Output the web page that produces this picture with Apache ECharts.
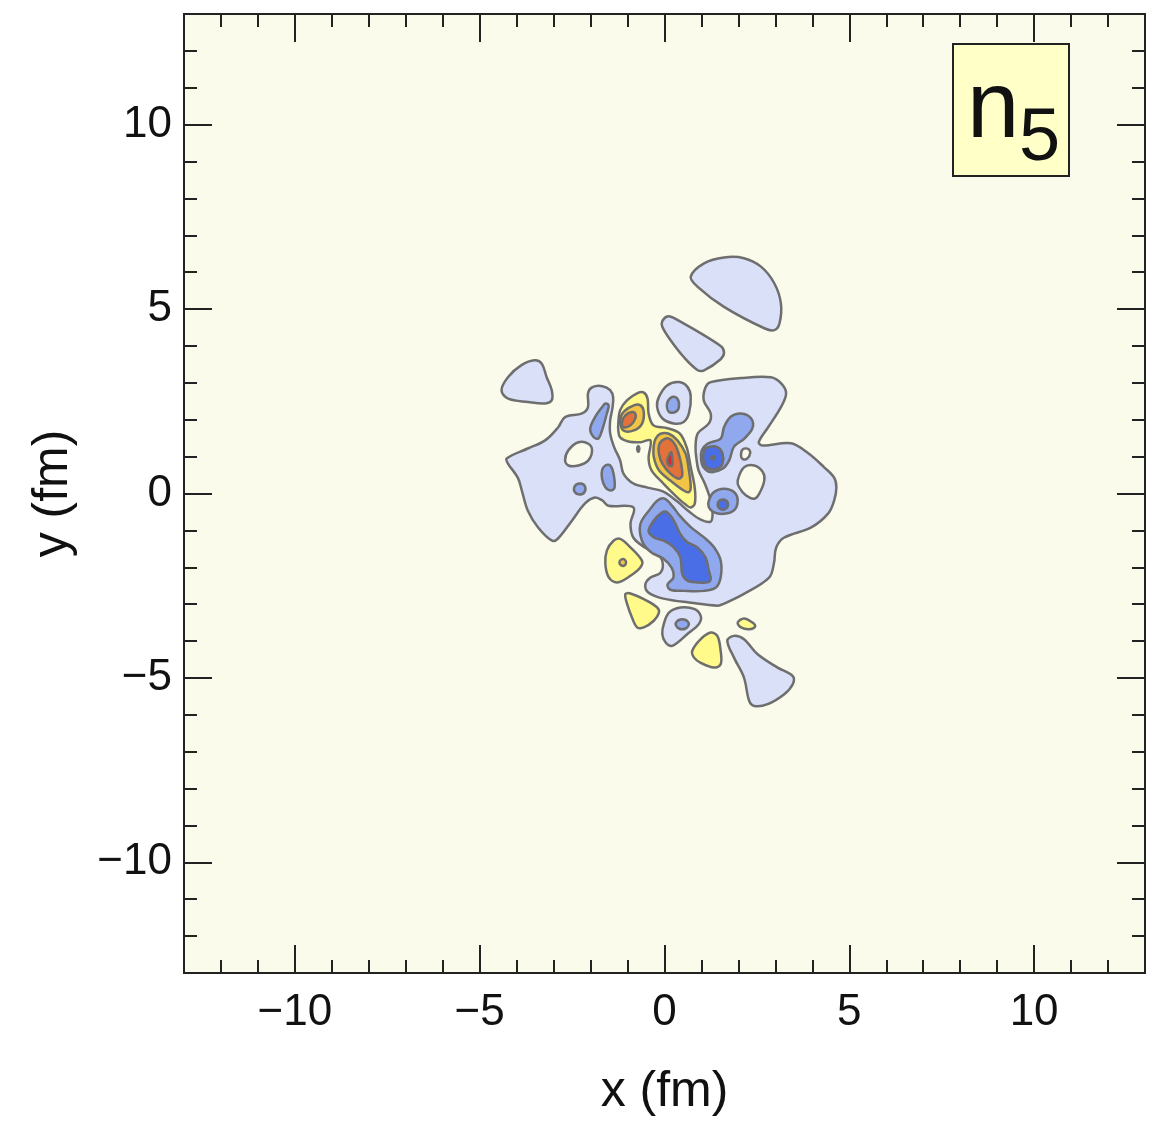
<!DOCTYPE html>
<html lang="en">
<head>
    <meta charset="UTF-8">
    <title>n5 contour</title>
    <script src="https://cdn.jsdelivr.net/npm/echarts@6/dist/echarts.min.js"></script>
</head>
<style>
    *{margin:0;padding:0;}
    html,body{width:100%;height:100%;overflow:hidden;background:#fff;}
    .container{width:1160px;height:1122px;}
</style>
<body>
<div class="container"></div>
<script>
    // contour outlines, x and y in fm
    let halfDisc=[[0.71,5.88],[1.07,6.24],[1.61,6.40],[2.15,6.38],[2.61,6.15],[2.97,5.70],[3.15,5.15],[3.11,4.61],[2.97,4.43],[2.70,4.48],[1.61,5.06],[0.89,5.61]];
    let tearBlob=[[-0.06,4.67],[0.07,4.80],[0.25,4.76],[1.52,4.00],[1.61,3.82],[1.52,3.64],[1.07,3.34],[0.89,3.35],[0.52,3.70],[0.16,4.16],[-0.06,4.52]];
    let leftBlob=[[-4.41,2.80],[-4.23,3.16],[-3.87,3.48],[-3.51,3.61],[-3.32,3.52],[-3.19,3.16],[-3.05,2.80],[-3.05,2.53],[-3.23,2.44],[-3.69,2.48],[-4.23,2.57]];
    let horseshoe=[[-1.96,2.88],[-1.68,2.91],[-1.47,2.80],[-1.39,2.61],[-1.41,2.31],[-1.47,1.98],[-1.47,1.63],[-1.36,1.25],[-1.20,0.90],[-1.11,0.54],[-0.84,0.27],[-0.46,0.16],[-0.03,0.05],[0.35,-0.22],[0.63,-0.46],[0.98,-0.71],[1.25,-0.76],[1.30,-0.54],[1.25,-0.19],[1.09,0.27],[0.92,0.63],[0.87,0.90],[0.84,1.25],[0.90,1.63],[1.20,1.90],[1.25,2.17],[1.06,2.53],[1.11,2.88],[1.25,3.02],[2.07,3.13],[2.88,3.15],[3.15,2.99],[3.29,2.72],[3.15,2.34],[2.80,1.79],[2.55,1.39],[2.66,1.30],[3.42,1.36],[3.89,1.09],[4.32,0.71],[4.59,0.43],[4.65,0.16],[4.59,-0.19],[4.43,-0.54],[3.97,-0.92],[3.23,-1.20],[3.02,-1.47],[2.96,-1.90],[2.83,-2.28],[2.15,-2.72],[1.60,-2.99],[1.44,-3.04],[0.71,-2.96],[-0.03,-2.85],[-0.43,-2.69],[-0.52,-2.47],[-0.38,-2.28],[-0.11,-2.15],[-0.05,-1.88],[-0.19,-1.63],[-0.52,-1.47],[-0.84,-1.20],[-0.92,-0.82],[-0.84,-0.38],[-1.52,-0.33],[-1.68,-0.19],[-1.88,-0.11],[-2.15,-0.27],[-2.50,-0.73],[-2.88,-1.22],[-3.04,-1.28],[-3.42,-0.92],[-3.70,-0.46],[-3.86,0.08],[-3.97,0.43],[-4.24,0.82],[-4.27,0.95],[-3.70,1.22],[-3.23,1.44],[-2.88,1.79],[-2.69,2.07],[-2.23,2.17],[-2.07,2.34],[-2.07,2.72]];
    let leftHole=[[-2.69,0.90],[-2.60,1.17],[-2.33,1.39],[-2.06,1.35],[-1.96,1.17],[-2.06,0.90],[-2.33,0.76],[-2.60,0.76]];
    let rightHole=[[1.98,0.35],[2.15,0.71],[2.43,0.76],[2.66,0.58],[2.70,0.35],[2.56,-0.01],[2.43,-0.14],[2.20,-0.05],[2.02,0.17]];
    let smallHole=[[2.07,1.03],[2.11,1.19],[2.26,1.21],[2.32,1.10],[2.23,0.94],[2.11,0.94]];
    let leftSliver=[[-2.01,1.76],[-1.88,2.07],[-1.69,2.34],[-1.60,2.44],[-1.51,2.39],[-1.56,2.17],[-1.69,1.71],[-1.79,1.49],[-1.92,1.53]];
    let lowerSliver=[[-1.69,0.63],[-1.60,0.76],[-1.47,0.76],[-1.38,0.54],[-1.35,0.17],[-1.44,0.08],[-1.60,0.17],[-1.69,0.40]];
    let tinyCircle=[[-2.45,0.14],[-2.39,0.24],[-2.26,0.27],[-2.15,0.19],[-2.17,0.03],[-2.31,-0.03],[-2.42,0.03]];
    let rightBlob=[[1.01,1.17],[1.16,1.35],[1.52,1.49],[1.61,1.80],[1.79,2.08],[2.07,2.17],[2.34,2.04],[2.38,1.77],[2.16,1.49],[1.88,1.27],[1.75,0.90],[1.57,0.67],[1.25,0.58],[1.05,0.72],[0.99,0.94]];
    let rightCore=[[1.07,1.17],[1.20,1.26],[1.43,1.26],[1.57,1.08],[1.57,0.81],[1.43,0.67],[1.20,0.67],[1.07,0.81]];
    let rightDot=[[1.26,0.97],[1.31,1.01],[1.36,0.97],[1.31,0.93]];
    let lowCircle=[[1.20,-0.19],[1.34,0.04],[1.61,0.13],[1.88,0.04],[1.98,-0.19],[1.88,-0.46],[1.61,-0.55],[1.34,-0.51],[1.20,-0.37]];
    let lowCircleCore=[[1.44,-0.30],[1.51,-0.18],[1.65,-0.18],[1.72,-0.30],[1.65,-0.42],[1.51,-0.42]];
    let trough=[[-0.65,-0.82],[-0.38,-0.41],[-0.19,-0.19],[0.00,-0.14],[0.22,-0.35],[0.41,-0.60],[0.71,-0.91],[1.07,-1.19],[1.34,-1.46],[1.52,-1.82],[1.52,-2.27],[1.39,-2.55],[1.07,-2.64],[0.52,-2.64],[0.16,-2.61],[0.08,-2.47],[0.24,-2.28],[0.19,-2.01],[-0.03,-1.77],[-0.38,-1.58],[-0.61,-1.28]];
    let troughCore=[[-0.43,-1.01],[-0.29,-0.73],[-0.06,-0.51],[0.07,-0.51],[0.25,-0.73],[0.43,-1.10],[0.62,-1.32],[0.89,-1.46],[1.11,-1.73],[1.20,-2.09],[1.25,-2.32],[1.16,-2.41],[0.89,-2.41],[0.62,-2.36],[0.48,-2.18],[0.43,-1.73],[0.25,-1.46],[-0.02,-1.28],[-0.29,-1.19]];
    let topLoop=[[-0.15,2.62],[0.07,2.93],[0.39,3.02],[0.62,2.89],[0.71,2.62],[0.66,2.17],[0.52,1.94],[0.25,1.90],[-0.06,2.04],[-0.20,2.35]];
    let topLoopCore=[[0.07,2.44],[0.21,2.62],[0.35,2.57],[0.39,2.35],[0.30,2.21],[0.12,2.21]];
    let yellowMain=[[-1.25,1.71],[-1.25,1.90],[-1.20,2.26],[-1.01,2.53],[-0.73,2.72],[-0.57,2.74],[-0.46,2.58],[-0.43,2.17],[-0.30,1.85],[0.08,1.77],[0.41,1.63],[0.60,1.25],[0.71,0.71],[0.82,0.14],[0.82,-0.27],[0.71,-0.38],[0.57,-0.30],[0.35,-0.11],[-0.03,0.27],[-0.35,0.63],[-0.43,0.95],[-0.38,1.44],[-0.65,1.39],[-0.98,1.41],[-1.20,1.52]];
    let goldUpper=[[-1.20,1.98],[-1.11,2.21],[-0.83,2.39],[-0.65,2.39],[-0.56,2.21],[-0.61,1.89],[-0.83,1.71],[-1.11,1.71]];
    let orangeUpper=[[-1.15,1.94],[-1.06,2.12],[-0.88,2.21],[-0.79,2.17],[-0.79,2.03],[-0.92,1.85],[-1.11,1.80]];
    let goldLower=[[-0.24,1.49],[-0.11,1.62],[0.12,1.62],[0.35,1.44],[0.57,1.08],[0.66,0.63],[0.71,0.17],[0.66,0.04],[0.52,0.08],[0.16,0.35],[-0.15,0.63],[-0.29,0.99],[-0.29,1.30]];
    let orangeLower=[[-0.15,1.30],[-0.06,1.44],[0.12,1.49],[0.30,1.30],[0.43,0.90],[0.48,0.49],[0.39,0.40],[0.16,0.54],[-0.06,0.81],[-0.15,1.08]];
    let redCore=[[0.07,0.90],[0.12,1.03],[0.18,1.12],[0.21,0.94],[0.21,0.76],[0.12,0.76]];
    let grayDot=[[-0.74,1.21],[-0.71,1.29],[-0.68,1.21],[-0.71,1.13]];
    let yellowTri=[[-1.56,-1.55],[-1.38,-1.28],[-1.20,-1.23],[-0.92,-1.46],[-0.61,-1.82],[-0.65,-2.00],[-0.92,-2.23],[-1.28,-2.41],[-1.51,-2.27],[-1.60,-1.91]];
    let goldDot=[[-1.22,-1.87],[-1.17,-1.79],[-1.08,-1.79],[-1.04,-1.87],[-1.08,-1.95],[-1.17,-1.95]];
    let yellowTri2=[[-1.06,-2.73],[-0.92,-2.71],[-0.47,-2.91],[-0.20,-3.09],[-0.15,-3.23],[-0.29,-3.45],[-0.56,-3.63],[-0.74,-3.63],[-0.88,-3.36],[-1.01,-3.00]];
    let lowLoop=[[-0.02,-3.54],[0.12,-3.23],[0.43,-3.09],[0.80,-3.13],[0.98,-3.32],[0.93,-3.54],[0.62,-3.81],[0.21,-4.13],[0.03,-4.04],[-0.06,-3.81]];
    let lowLoopCore=[[0.30,-3.54],[0.39,-3.43],[0.57,-3.43],[0.66,-3.54],[0.57,-3.66],[0.39,-3.66]];
    let yellowTri3=[[0.75,-4.27],[0.98,-3.95],[1.25,-3.77],[1.43,-3.86],[1.52,-4.27],[1.52,-4.63],[1.34,-4.72],[0.98,-4.59],[0.80,-4.45]];
    let yellowEllipse=[[1.98,-3.50],[2.15,-3.39],[2.38,-3.50],[2.45,-3.61],[2.29,-3.68],[2.07,-3.63]];
    let wedge=[[1.70,-3.99],[1.88,-3.86],[2.15,-3.95],[2.52,-4.36],[3.06,-4.72],[3.47,-4.95],[3.47,-5.17],[3.24,-5.44],[2.79,-5.71],[2.43,-5.76],[2.29,-5.62],[2.15,-4.99],[1.88,-4.45]];

    // [outline, contour level], painted in this order
    let regions=[
        [halfDisc,-1],[tearBlob,-1],[leftBlob,-1],[horseshoe,-1],
        [leftHole,0],[rightHole,0],[smallHole,0],
        [leftSliver,-2],[lowerSliver,-2],[tinyCircle,-2],[rightBlob,-2],[lowCircle,-2],[trough,-2],
        [rightCore,-3],[lowCircleCore,-3],[troughCore,-3],[rightDot,-4],
        [topLoop,-1],[topLoopCore,-2],
        [yellowMain,1],[goldUpper,2],[orangeUpper,3],[goldLower,2],[orangeLower,3],[redCore,4],
        [grayDot,-1],
        [yellowTri,1],[goldDot,2],[yellowTri2,1],[lowLoop,-1],[lowLoopCore,-2],[yellowTri3,1],[yellowEllipse,1],[wedge,-1]
    ];

    let labelTicks=[-10,-5,0,5,10];
    let minorTicks=[];
    for(let i=-12;i<=12;i++){ if(i%5!==0) minorTicks.push(i); }

    let levelColor={
        '-4':'#2a4cc8','-3':'#4a6ee6','-2':'#8fa8ee','-1':'#d9e0f8','0':'#fafbea',
        '1':'#fffa8a','2':'#f1c445','3':'#e2723a','4':'#d8262c'
    };

    let font='"Liberation Sans", Arial, sans-serif';
    let container=document.querySelector('.container');
    let mycharts=echarts.init(container);

    function axis(dim,pos,ticks,len,labels){
        let a={
            type:'value',min:-13,max:13,position:pos,
            axisLine:{show:false,onZero:false},
            splitLine:{show:false},
            axisTick:{show:true,inside:true,length:len,customValues:ticks,
                lineStyle:{color:'#222',width:2}},
            axisLabel:{show:labels,customValues:labelTicks,color:'#111',fontSize:44,fontFamily:font,
                margin:dim==='x'?18:12,
                formatter:v=>String(v).replace('-','\u2212')}
        };
        if(labels){
            a.name=dim+' (fm)';
            a.nameLocation='middle';
            a.nameTextStyle={fontSize:50,color:'#111',fontFamily:font};
            a.nameGap=dim==='x'?94:106;
        }
        return a;
    }

    let options={
        animation:false,
        backgroundColor:'#ffffff',
        grid:{left:184,top:14,width:961,height:959,show:true,backgroundColor:levelColor['0'],
            borderColor:'#222',borderWidth:2},
        xAxis:[
            axis('x','bottom',labelTicks,28,true),
            axis('x','bottom',minorTicks,13,false),
            axis('x','top',labelTicks,28,false),
            axis('x','top',minorTicks,13,false)
        ],
        yAxis:[
            axis('y','left',labelTicks,28,true),
            axis('y','left',minorTicks,13,false),
            axis('y','right',labelTicks,28,false),
            axis('y','right',minorTicks,13,false)
        ],
        graphic:[
            {type:'rect',left:952,top:43,shape:{width:116,height:132},
                style:{fill:'#ffffc8',stroke:'#222',lineWidth:2},z:100},
            {type:'text',x:967,y:64,style:{text:'n',fontSize:94,fontFamily:font,fill:'#111'},z:101},
            {type:'text',x:1019,y:103,style:{text:'5',fontSize:74,fontFamily:font,fill:'#111'},z:101}
        ],
        series:[{
            type:'custom',
            coordinateSystem:'cartesian2d',
            xAxisIndex:0,yAxisIndex:0,
            clip:true,
            data:regions.map((r,i)=>[r[0][0][0],r[0][0][1],i]),
            encode:{x:0,y:1},
            renderItem:function(params,api){
                let r=regions[params.dataIndex];
                let pts=r[0].map(p=>api.coord(p));
                return {
                    type:'polygon',
                    shape:{points:pts,smooth:0.35},
                    style:{fill:levelColor[String(r[1])],stroke:'#6e6e6e',lineWidth:2.5}
                };
            }
        }]
    };
    mycharts.setOption(options);
</script>
</body>
</html>
